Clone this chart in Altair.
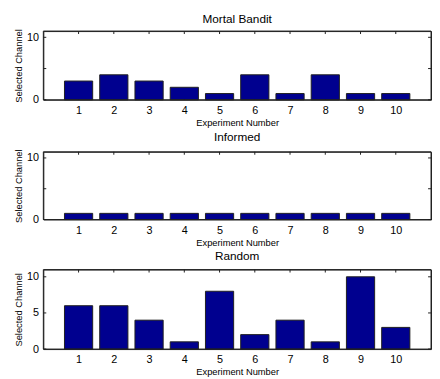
import altair as alt
import pandas as pd

experiments = [1, 2, 3, 4, 5, 6, 7, 8, 9, 10]
mortal_bandit = [3, 4, 3, 2, 1, 4, 1, 4, 1, 1]
informed = [1, 1, 1, 1, 1, 1, 1, 1, 1, 1]
random_ch = [6, 6, 4, 1, 8, 2, 4, 1, 10, 3]
y_ticks = [0, 5, 10]

FONT = "Liberation Sans"
BAR_FILL = "#00008F"
LINE = "#202020"
W = 395
TICK = 3


def panel(values, title, height, title_offset):
    df = pd.DataFrame({"exp": experiments, "v": values})
    xscale = alt.Scale(domain=[0, 11], nice=False, zero=False)
    yscale = alt.Scale(domain=[0, 11], nice=False)

    bars = (
        alt.Chart(df)
        .transform_calculate(xl="datum.exp - 0.4", xr="datum.exp + 0.4")
        .mark_bar(fill=BAR_FILL, stroke=LINE, strokeWidth=1)
        .encode(
            x=alt.X(
                "xl:Q", scale=xscale,
                axis=alt.Axis(
                    values=experiments, orient="bottom", tickSize=3, tickOpacity=0,
                    domain=False, grid=False, labelPadding=2, titlePadding=2,
                    labelOverlap=False, labelFlush=False,
                    title="Experiment Number",
                ),
            ),
            x2="xr:Q",
            y=alt.Y(
                "v:Q", scale=yscale,
                axis=alt.Axis(
                    values=y_ticks, orient="left", tickSize=3, tickOpacity=0,
                    domain=False, grid=False, labelPadding=2, titlePadding=3,
                    labelOverlap=False, labelFlush=False,
                    title="Selected Channel",
                ),
            ),
            y2=alt.datum(0),
        )
    )

    xt = alt.Chart(pd.DataFrame({"t": experiments}))
    yt = alt.Chart(pd.DataFrame({"t": y_ticks}))
    one = alt.Chart(pd.DataFrame({"k": [0]}))
    rule = dict(color=LINE, strokeWidth=1)
    top_ticks = xt.mark_rule(**rule).encode(
        x=alt.X("t:Q", scale=xscale), y=alt.value(0), y2=alt.value(TICK))
    bot_ticks = xt.mark_rule(**rule).encode(
        x=alt.X("t:Q", scale=xscale), y=alt.value(height - TICK), y2=alt.value(height))
    left_ticks = yt.mark_rule(**rule).encode(
        y=alt.Y("t:Q", scale=yscale), x=alt.value(0), x2=alt.value(TICK))
    right_ticks = yt.mark_rule(**rule).encode(
        y=alt.Y("t:Q", scale=yscale), x=alt.value(W - TICK), x2=alt.value(W))
    frame = [
        one.mark_rule(**rule).encode(x=alt.value(0), x2=alt.value(W), y=alt.value(0)),
        one.mark_rule(**rule).encode(x=alt.value(0), x2=alt.value(W), y=alt.value(height)),
        one.mark_rule(**rule).encode(x=alt.value(0), y=alt.value(0), y2=alt.value(height)),
        one.mark_rule(**rule).encode(x=alt.value(W), y=alt.value(0), y2=alt.value(height)),
    ]

    return alt.layer(top_ticks, bot_ticks, left_ticks, right_ticks, bars, *frame).properties(
        width=W,
        height=height,
        title=alt.TitleParams(
            title, fontSize=12, font=FONT, fontWeight="normal",
            offset=title_offset, color="black",
        ),
    )


chart = (
    alt.vconcat(
        panel(mortal_bandit, "Mortal Bandit", 70, 3),
        panel(informed, "Informed", 69, 5),
        panel(random_ch, "Random", 81, 6),
        spacing=3,
    )
    .properties(padding={"left": 5, "top": 1, "right": 0, "bottom": 0})
    .configure_view(stroke=LINE, strokeWidth=1)
    .configure_axis(
        labelFont=FONT, labelFontSize=11, labelColor="black",
        titleFont=FONT, titleFontSize=9.5, titleFontWeight="normal", titleColor="black",
    )
)

chart.save("out.html", embed_options={"renderer": "svg", "actions": False})
